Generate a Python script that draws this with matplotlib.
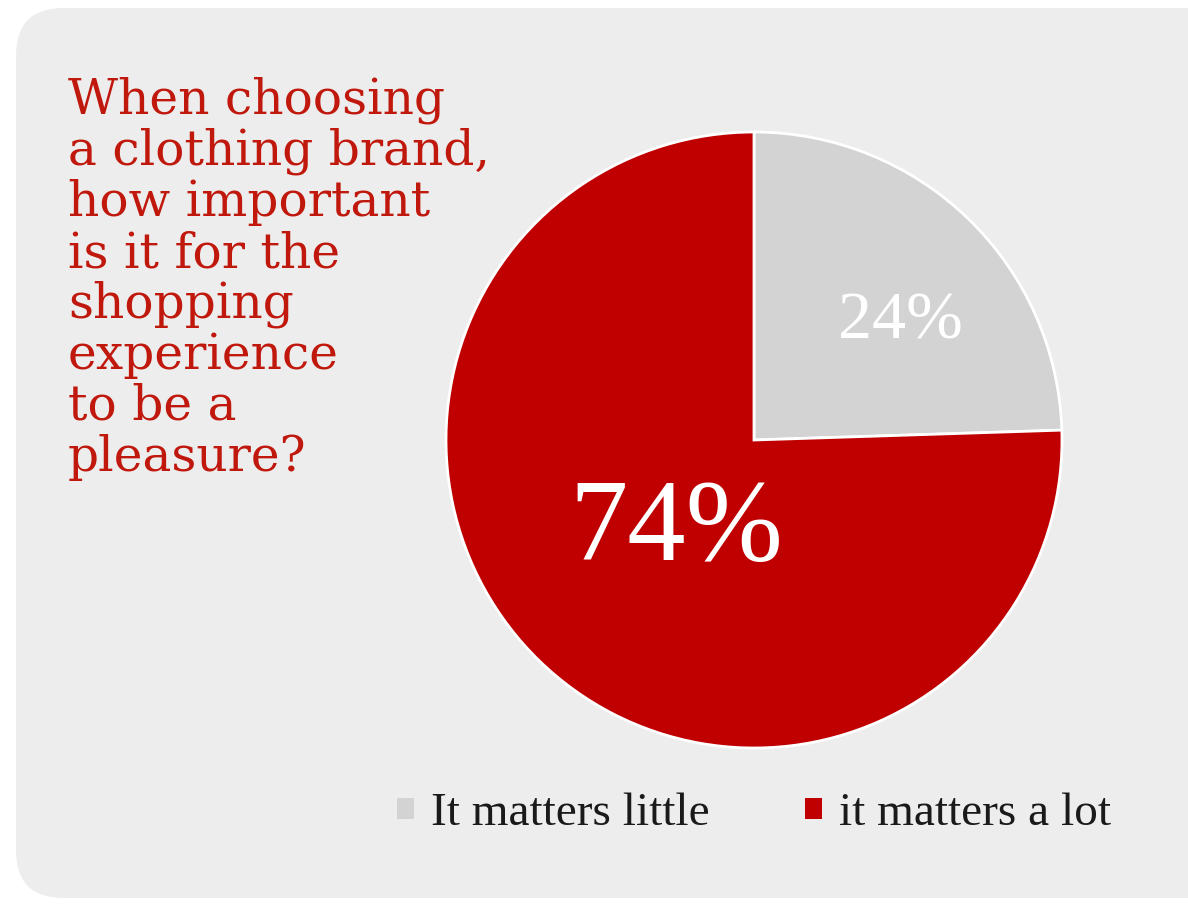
import numpy as np
import matplotlib
matplotlib.use("Agg")
import matplotlib.pyplot as plt
from matplotlib.patches import FancyBboxPatch

# survey answers
labels = ["It matters little", "it matters a lot"]
values = [24, 74]
colors = ["#D3D3D3", "#C00000"]

title_lines = ["When choosing", "a clothing brand,", "how important",
               "is it for the", "shopping", "experience", "to be a",
               "pleasure?"]

W, H = 1188, 906
fig = plt.figure(figsize=(W / 100, H / 100), dpi=100, facecolor="white")

# rounded panel behind everything
panel = FancyBboxPatch((16 / W, 8 / H), (1240 - 16) / W, (898 - 8) / H,
                       boxstyle="round,pad=0,rounding_size=0.04",
                       transform=fig.transFigure, facecolor="#EDEDED",
                       edgecolor="none", mutation_aspect=W / H, zorder=-5)
fig.patches.append(panel)

# title, one line at a time
for i, line in enumerate(title_lines):
    fig.text(68 / W, 1 - (114 + i * 51) / H, line, ha="left",
             va="baseline", fontsize=35, color="#C0180C",
             family="DejaVu Serif")

# pie
cx, cy, r = 754, 440, 308
ax = fig.add_axes([(cx - r) / W, (H - cy - r) / H, 2 * r / W, 2 * r / H])
wedges, _ = ax.pie(values, colors=colors, startangle=90, counterclock=False,
                   wedgeprops=dict(edgecolor="white", linewidth=2))
ax.set_xlim(-1, 1)
ax.set_ylim(-1, 1)
ax.set_aspect("equal")
ax.axis("off")

# percentage labels inside the wedges
label_r = [0.61, 0.39]
label_shift = [-7, 4]      # degrees off the wedge middle
label_size = [49, 84]
for w, v, lr, sh, fs in zip(wedges, values, label_r, label_shift, label_size):
    ang = np.deg2rad((w.theta1 + w.theta2) / 2 + sh)
    ax.text(lr * np.cos(ang), lr * np.sin(ang), "%d%%" % v, ha="center",
            va="center", color="white", fontsize=fs,
            family="Liberation Serif")

# legend
leg = fig.legend(wedges, labels, loc="center", ncol=2,
                 bbox_to_anchor=(754 / W, 1 - 814 / H), frameon=False,
                 prop=dict(family="Liberation Serif", size=34),
                 handlelength=0.36, handleheight=0.32, handletextpad=0.38,
                 columnspacing=2.0, labelcolor="#1A1A1A")
for h in leg.legend_handles:
    h.set_edgecolor("none")

fig.savefig("out.png", dpi=100, facecolor="white")
